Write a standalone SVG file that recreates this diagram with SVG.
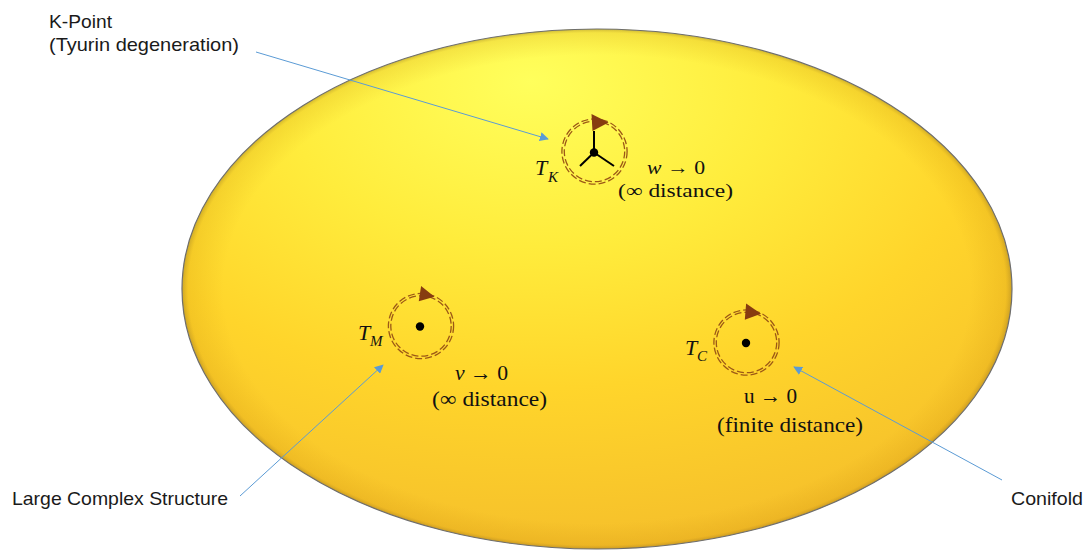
<svg xmlns="http://www.w3.org/2000/svg" width="1084" height="551" viewBox="0 0 1084 551">
  <style>
    .lbl { font-family: "Liberation Sans", Arial, sans-serif; font-size: 19px; fill: #1a1a1a; }
    .math { font-family: "Liberation Serif", "Times New Roman", serif; font-size: 21px; fill: #111; }
    .mathK { font-size: 19px; }
    .big { font-family: "Liberation Serif", "Times New Roman", serif; font-style: italic; font-size: 22px; fill: #111; }
    .it { font-style: italic; }
    .sub { font-family: "Liberation Serif", "Times New Roman", serif; font-style: italic; font-size: 15px; fill: #111; }
    .ring { fill: none; stroke: #9C5816; stroke-width: 1.3; stroke-dasharray: 7 3; }
    .dot { fill: #000; }
    .conn { fill: none; stroke: #5B9BD5; stroke-width: 1; }
    .loopArrow { fill: #873C10; }
  </style>
  <defs>
    <radialGradient id="gold" cx="0.42" cy="0.16" r="0.85" fx="0.42" fy="0.1">
      <stop offset="0" stop-color="#FFFF5C"/>
      <stop offset="0.35" stop-color="#FFEC3C"/>
      <stop offset="0.65" stop-color="#FFD52B"/>
      <stop offset="1" stop-color="#F5BF2B"/>
    </radialGradient>
    <radialGradient id="bevel" cx="0.5" cy="0.5" r="0.5">
      <stop offset="0.9" stop-color="#C08000" stop-opacity="0"/>
      <stop offset="0.985" stop-color="#C08000" stop-opacity="0.16"/>
      <stop offset="1" stop-color="#806020" stop-opacity="0.4"/>
    </radialGradient>
    <marker id="blueHead" viewBox="0 0 10 10" refX="9" refY="5" markerWidth="9" markerHeight="9" markerUnits="userSpaceOnUse" orient="auto">
      <path d="M0,0 L10,5 L0,10 Z" fill="#5B9BD5"/>
    </marker>
    <path id="tri" d="M0,-8.5 L17,0 L1,8.5 Z"/>
  </defs>

  <g id="moduli-space">
    <ellipse cx="597" cy="289" rx="415" ry="260" fill="url(#gold)"/>
    <ellipse cx="597" cy="289" rx="415" ry="260" fill="url(#bevel)"/>
    <ellipse cx="597" cy="289" rx="415" ry="260" fill="none" stroke="#6E6E6E" stroke-width="1.2"/>
  </g>

  <g id="connectors">
    <line class="conn" x1="256" y1="52" x2="548" y2="139" marker-end="url(#blueHead)"/>
    <line class="conn" x1="240" y1="496" x2="383" y2="365" marker-end="url(#blueHead)"/>
    <line class="conn" x1="1002" y1="480" x2="794" y2="367" marker-end="url(#blueHead)"/>
  </g>

  <g id="node-K">
    <circle class="ring" cx="594.5" cy="151.5" r="30.2"/>
    <circle class="ring" cx="594.5" cy="151.5" r="32.6"/>
    <line x1="594" y1="152.5" x2="594" y2="131" stroke="#000" stroke-width="2"/>
    <line x1="594" y1="152.5" x2="580" y2="166" stroke="#000" stroke-width="2"/>
    <line x1="594" y1="152.5" x2="614" y2="166" stroke="#000" stroke-width="2"/>
    <circle class="dot" cx="594" cy="152.5" r="4.2"/>
    <use href="#tri" class="loopArrow" transform="translate(591.5,122.5)"/>
    <text class="big" x="535" y="175">T</text>
    <text class="sub" x="548" y="182">K</text>
    <text class="math mathK" x="647" y="174" textLength="58" lengthAdjust="spacingAndGlyphs"><tspan class="it">w</tspan> → 0</text>
    <text class="math mathK" x="618" y="197" textLength="115" lengthAdjust="spacingAndGlyphs">(∞ distance)</text>
  </g>

  <g id="node-M">
    <circle class="ring" cx="421" cy="326" r="30.2"/>
    <circle class="ring" cx="421" cy="326" r="32.6"/>
    <circle class="dot" cx="420" cy="326.5" r="4.2"/>
    <use href="#tri" class="loopArrow" transform="translate(419.5,293.5) rotate(12) scale(0.9)"/>
    <text class="big" x="358" y="340">T</text>
    <text class="sub" x="370" y="346">M</text>
    <text class="math" x="455" y="380" textLength="53" lengthAdjust="spacingAndGlyphs"><tspan class="it">v</tspan> → 0</text>
    <text class="math" x="432" y="406" textLength="115" lengthAdjust="spacingAndGlyphs">(∞ distance)</text>
  </g>

  <g id="node-C">
    <circle class="ring" cx="746.5" cy="342.5" r="30.2"/>
    <circle class="ring" cx="746.5" cy="342.5" r="32.6"/>
    <circle class="dot" cx="746" cy="343" r="4.2"/>
    <use href="#tri" class="loopArrow" transform="translate(745,311.5) rotate(8) scale(0.95)"/>
    <text class="big" x="685" y="355">T</text>
    <text class="sub" x="697" y="361">C</text>
    <text class="math" x="744" y="403" textLength="53" lengthAdjust="spacingAndGlyphs">u → 0</text>
    <text class="math" x="717" y="432" textLength="146" lengthAdjust="spacingAndGlyphs">(finite distance)</text>
  </g>

  <g id="label-kpoint">
    <text class="lbl" x="49" y="28" textLength="63" lengthAdjust="spacingAndGlyphs">K-Point</text>
    <text class="lbl" x="49" y="51" textLength="190" lengthAdjust="spacingAndGlyphs">(Tyurin degeneration)</text>
  </g>
  <g id="label-lcs">
    <text class="lbl" x="12" y="505" textLength="216" lengthAdjust="spacingAndGlyphs">Large Complex Structure</text>
  </g>
  <g id="label-conifold">
    <text class="lbl" x="1011" y="505" textLength="72" lengthAdjust="spacingAndGlyphs">Conifold</text>
  </g>
</svg>
